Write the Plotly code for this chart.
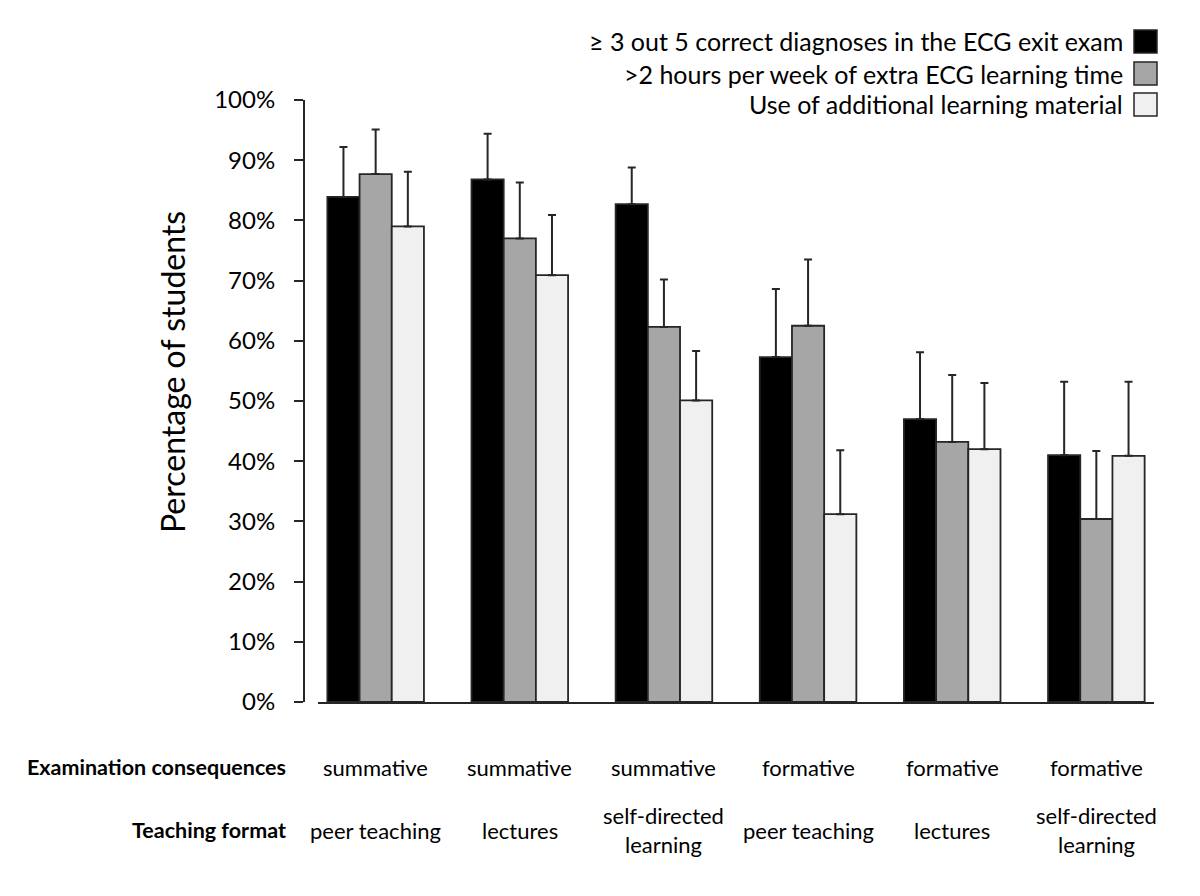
import plotly.graph_objects as go

groups = ["g1", "g2", "g3", "g4", "g5", "g6"]
exam_consequences = ["summative", "summative", "summative", "formative", "formative", "formative"]
teaching_format = ["peer teaching", "lectures", "self-directed<br>learning",
                   "peer teaching", "lectures", "self-directed<br>learning"]

series_names = ["≥ 3 out 5 correct diagnoses in the ECG exit exam",
                ">2 hours per week of extra ECG learning time",
                "Use of additional learning material"]
exam_correct = [83.9, 86.8, 82.7, 57.3, 47.0, 41.0]
exam_correct_err = [8.3, 7.6, 6.1, 11.3, 11.1, 12.2]
extra_time = [87.7, 77.0, 62.3, 62.5, 43.2, 30.4]
extra_time_err = [7.4, 9.3, 7.9, 11.0, 11.1, 11.3]
extra_material = [79.0, 70.9, 50.1, 31.2, 42.0, 40.9]
extra_material_err = [9.1, 10.0, 8.2, 10.6, 11.0, 12.3]

y_ticks = [0, 10, 20, 30, 40, 50, 60, 70, 80, 90, 100]
y_ticktext = [f"{t}%" for t in y_ticks]

colors = ["#000000", "#a6a6a6", "#f0f0f0"]
FONT = "Lato"
LINE = "#262626"

# page body has an 8px default margin: work in page pixels, subtract offset
OFF = 8
W, H = 1200 - OFF, 896 - OFF


def px(x):
    return x - OFF


fig = go.Figure()
for name, vals, errs, col in zip(series_names,
                                 [exam_correct, extra_time, extra_material],
                                 [exam_correct_err, extra_time_err, extra_material_err],
                                 colors):
    fig.add_trace(go.Bar(
        x=groups, y=vals, name=name,
        marker=dict(color=col, line=dict(color=LINE, width=1.8)),
        error_y=dict(type="data", array=errs, symmetric=False, arrayminus=[0] * len(errs),
                     color=LINE, thickness=2, width=4),
        showlegend=False,
    ))

ml = px(304)
mt = px(100)
plot_bottom = px(702)
mr = W - px(1154)
mb = H - plot_bottom
pw = W - ml - mr
ph = H - mt - mb

fig.update_layout(
    width=W, height=H,
    margin=dict(l=ml, r=mr, t=mt, b=mb, pad=0),
    paper_bgcolor="white", plot_bgcolor="white",
    barmode="group", bargap=0.33, bargroupgap=0,
    font=dict(family=FONT, color="#000000"),
    xaxis=dict(
        domain=[14 / pw, 1], range=[-0.4, 5.4],
        showticklabels=False, ticks="", showgrid=False, zeroline=False,
        showline=True, linecolor=LINE, linewidth=2,
    ),
    yaxis=dict(
        range=[0, 100], tickvals=y_ticks, ticktext=y_ticktext,
        anchor="free", position=0,
        ticks="outside", ticklen=9, tickwidth=2, tickcolor=LINE,
        showline=True, linecolor=LINE, linewidth=2,
        showgrid=False, zeroline=False,
        tickfont=dict(size=24, family=FONT, color="#000000"),
        ticklabelstandoff=14,
    ),
)


def xp(x):
    return (px(x) - ml) / pw


def yp(y):
    return (plot_bottom - px(y)) / ph


annotations = []
annotations.append(dict(
    text="Percentage of students", xref="paper", yref="paper",
    x=xp(172), y=yp(372), textangle=-90,
    showarrow=False, xanchor="center", yanchor="middle",
    font=dict(size=32, family=FONT, color="#000000"),
))
row1_y = yp(767)
row2_y = yp(830)
annotations.append(dict(
    text="<b>Examination consequences</b>", xref="paper", yref="paper",
    x=xp(288), y=row1_y, xanchor="right", yanchor="middle",
    showarrow=False, font=dict(size=21.5, family=FONT, color="#000000"),
))
annotations.append(dict(
    text="<b>Teaching format</b>", xref="paper", yref="paper",
    x=xp(288), y=row2_y, xanchor="right", yanchor="middle",
    showarrow=False, font=dict(size=21.5, family=FONT, color="#000000"),
))
for g, ec, tf in zip(groups, exam_consequences, teaching_format):
    annotations.append(dict(
        text=ec, xref="x", yref="paper", x=g, y=row1_y,
        xanchor="center", yanchor="middle", showarrow=False,
        font=dict(size=22, family=FONT, color="#000000"),
    ))
    annotations.append(dict(
        text=tf, xref="x", yref="paper", x=g, y=row2_y,
        xanchor="center", yanchor="middle", showarrow=False,
        font=dict(size=22, family=FONT, color="#000000"),
    ))

shapes = []
legend_rows_y = [41.5, 73.5, 104.5]
for name, col, ly in zip(series_names, colors, legend_rows_y):
    annotations.append(dict(
        text=name, xref="paper", yref="paper",
        x=xp(1125), y=yp(ly), xanchor="right", yanchor="middle",
        showarrow=False, font=dict(size=25, family=FONT, color="#000000"),
    ))
    shapes.append(dict(
        type="rect", xref="paper", yref="paper",
        x0=xp(1134), x1=xp(1157),
        y0=yp(ly - 11.5), y1=yp(ly + 11.5),
        fillcolor=col, line=dict(color=LINE, width=1.5),
    ))

fig.update_layout(annotations=annotations, shapes=shapes)
fig.write_html("out.html")
